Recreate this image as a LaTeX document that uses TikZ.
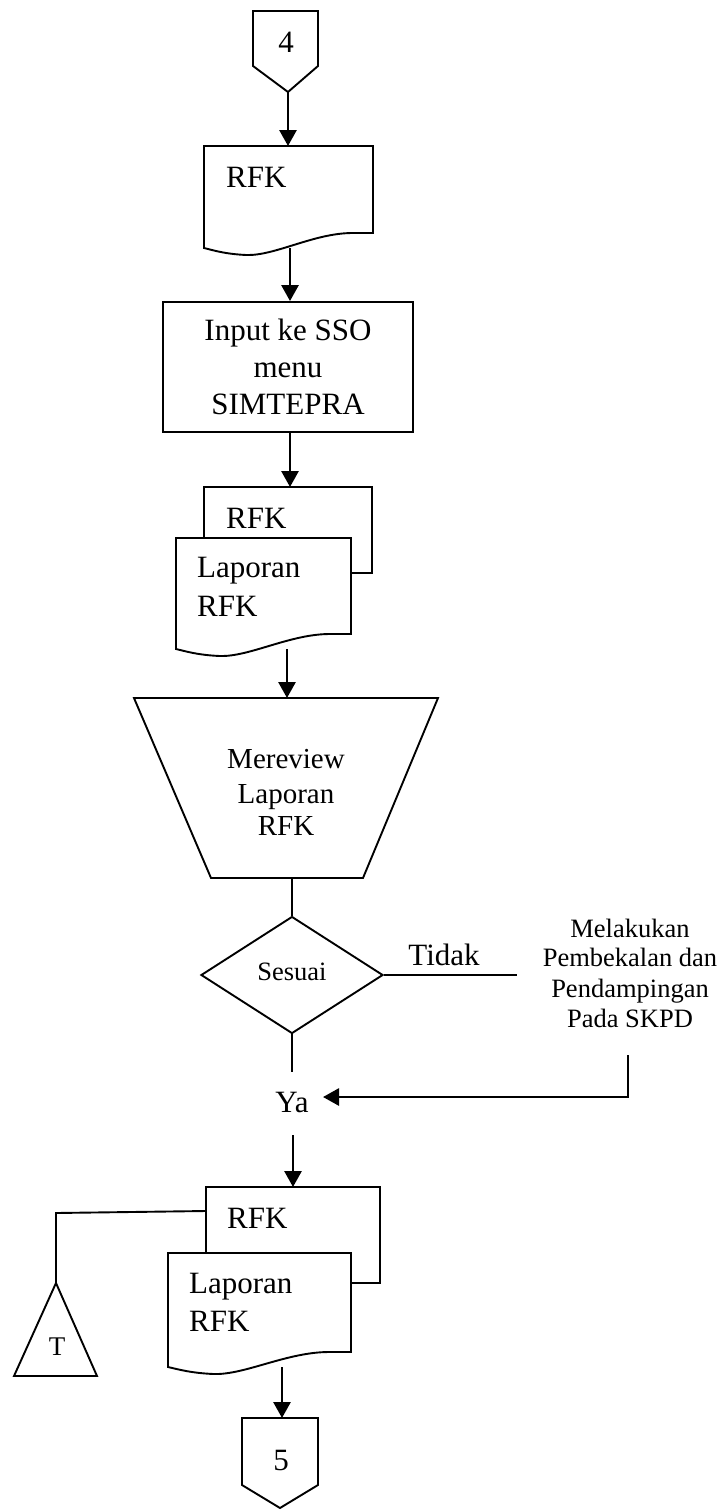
\documentclass[tikz,border=0pt]{standalone}
\usepackage{fontspec}
\setmainfont{Liberation Serif}
\usetikzlibrary{arrows.meta,calc,shapes.geometric}
\newcommand{\docshape}[4]{%
  \draw[shp] (#1,#2) -- (#3,#2) -- (#3,#4) -- ({#3-0.12*(#3-#1)},#4)
    .. controls ({#3-0.35*(#3-#1)},#4) and ({#1+0.42*(#3-#1)},{#4+23}) .. ({#1+0.25*(#3-#1)},{#4+22})
    .. controls ({#1+0.12*(#3-#1)},{#4+21}) and ({#1+0.05*(#3-#1)},{#4+17}) .. (#1,{#4+15}) -- cycle;}
\begin{document}
\begin{tikzpicture}[x=1pt,y=-1pt,
  shp/.style={draw=black,fill=white,line width=1.9pt,line join=miter},
  conn/.style={draw=black,line width=1.9pt},
  arr/.style={draw=black,line width=2.8pt,-{Triangle[width=17pt,length=16pt]}},
  big/.style={font=\fontsize{31}{37}\selectfont,inner sep=0pt},
  mid/.style={font=\fontsize{29}{34}\selectfont,inner sep=0pt},
  small/.style={font=\fontsize{26.5}{30}\selectfont,inner sep=0pt}]
\useasboundingbox (0,0) rectangle (722,1510);

% off-page connector 4
\draw[shp] (253,11) -- (318,11) -- (318,66) -- (288,92) -- (253,66) -- cycle;
\node[big,anchor=base] (n4) at (286,52) {4};
\coordinate (c4tip) at (288,92);

% document RFK
\docshape{204}{146}{373}{233}
\node[big,anchor=base west] (t1) at (226,187) {RFK};
\coordinate (d1top) at (288,146);
\coordinate (d1bot) at (290,248);

% process
\node[shp,big,minimum width=250pt,minimum height=130pt,align=center] (proc) at (288,367)
  {Input ke SSO\\menu\\SIMTEPRA};

% stacked documents 1
\draw[shp] (204,487) rectangle (372,573);
\node[big,anchor=base west] (t2) at (226,528) {RFK};
\docshape{176}{538}{351}{634}
\node[big,anchor=base west] (t3) at (197,577) {Laporan};
\node[big,anchor=base west] (t4) at (197,616) {RFK};
\coordinate (d2top) at (290,487);
\coordinate (d2bot) at (287,649);

% manual operation (trapezoid)
\draw[shp] (134,698) -- (438,698) -- (363,878) -- (211,878) -- cycle;
\node[mid,anchor=base] (m1) at (286,768) {Mereview};
\node[mid,anchor=base] (m2) at (286,803) {Laporan};
\node[mid,anchor=base] (m3) at (286,835) {RFK};
\coordinate (trtop) at (287,698);
\coordinate (trbot) at (292,878);

% decision
\node[shp,diamond,small,minimum width=182pt,minimum height=117pt] (dia) at (292,975) {\raisebox{7pt}{Sesuai}};

\node[big,anchor=base] (tidak) at (444,965) {Tidak};
\coordinate (tend) at (517,975);

\node[small,anchor=base] (k1) at (630,937) {Melakukan};
\node[small,anchor=base] (k2) at (630,966) {Pembekalan dan};
\node[small,anchor=base] (k3) at (630,997) {Pendampingan};
\node[small,anchor=base] (k4) at (630,1027) {Pada SKPD};

\node[big,anchor=base] (ya) at (292,1112) {Ya};
\coordinate (yaabove) at (292,1072);
\coordinate (rstart) at (628,1055);
\coordinate (rcorner) at (628,1097);
\coordinate (yaright) at (323,1097);
\coordinate (yabelow) at (293,1135);

% stacked documents 2
\draw[shp] (206,1187) rectangle (380,1283);
\node[big,anchor=base west] (t5) at (227,1228) {RFK};
\docshape{168}{1253}{351}{1352}
\node[big,anchor=base west] (t6) at (189,1293) {Laporan};
\node[big,anchor=base west] (t7) at (189,1331) {RFK};
\coordinate (d3top) at (293,1187);
\coordinate (d3left) at (206,1211);
\coordinate (d3bot) at (282,1367);

% storage triangle
\draw[shp] (56,1283) -- (97,1376) -- (14,1376) -- cycle;
\node[font=\fontsize{27}{30}\selectfont,inner sep=0pt,anchor=base] (tt) at (57,1355) {T};
\coordinate (tapex) at (56,1283);
\coordinate (tcorner) at (56,1213);

% off-page connector 5
\draw[shp] (242,1418) -- (318,1418) -- (318,1485) -- (280,1508) -- (242,1485) -- cycle;
\node[big,anchor=base] (n5) at (281,1470) {5};
\coordinate (c5top) at (282,1418);

% connectors
\draw[arr] (c4tip) -- (d1top);
\draw[arr] (d1bot) -- (proc.north -| d1bot);
\draw[arr] (proc.south -| d1bot) -- (d2top);
\draw[arr] (d2bot) -- (trtop);
\draw[conn] (trbot) -- (dia.north);
\draw[conn] (dia.east) -- (tend);
\draw[conn] (dia.south) -- (yaabove);
\draw[arr] (rstart) -- (rcorner) -- (yaright);
\draw[arr] (yabelow) -- (d3top);
\draw[conn] (d3left) -- (tcorner) -- (tapex);
\draw[arr] (d3bot) -- (c5top);
\end{tikzpicture}
\end{document}
